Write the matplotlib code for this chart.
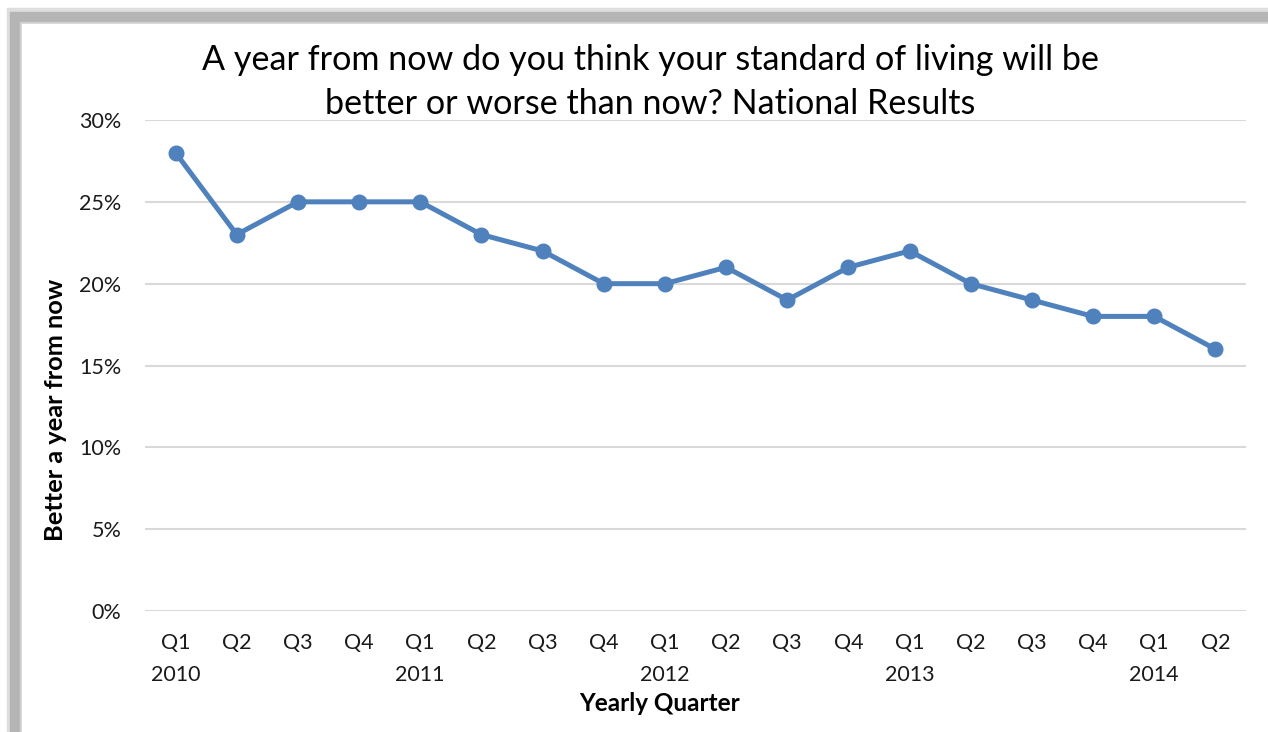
import matplotlib
matplotlib.use('Agg')
import matplotlib.pyplot as plt
from matplotlib.patches import Rectangle
from matplotlib.ticker import PercentFormatter

plt.rcParams['font.family'] = ['Lato', 'DejaVu Sans']

quarters = ['Q1', 'Q2', 'Q3', 'Q4'] * 4 + ['Q1', 'Q2']
years = ['2010', '', '', '', '2011', '', '', '', '2012', '', '', '',
         '2013', '', '', '', '2014', '']
better = [28, 23, 25, 25, 25, 23, 22, 20, 20, 21, 19, 21, 22, 20, 19, 18, 18, 16]

fig = plt.figure(figsize=(12.68, 7.32), dpi=100)

# grey shadow frame round the chart
frame = [((7, 8), '#dedede'), ((10, 12), '#b5b5b5'),
         ((20, 22), '#d0d0d0'), ((22, 24), 'white')]
for (fx, fy), col in frame:
    fig.patches.append(Rectangle((fx / 1268, 0), 1 - fx / 1268, 1 - fy / 732,
                                 transform=fig.transFigure, color=col, zorder=-5))

ax = fig.add_axes([145 / 1268, 1 - 611 / 732, 1101 / 1268, 491 / 732])
ax.patch.set_alpha(0)
x = range(len(better))
ax.plot(x, better, color='#4f81bd', lw=3.6, marker='o', markersize=10.5,
        solid_joinstyle='round', zorder=3)

ax.set_xlim(-0.5, len(better) - 0.5)
ax.set_ylim(0, 30)
ax.set_yticks(range(0, 31, 5))
ax.yaxis.set_major_formatter(PercentFormatter(decimals=0))
ax.set_xticks(list(x))
ax.set_xticklabels([q + '\n' + y for q, y in zip(quarters, years)],
                   linespacing=1.75, va='top')
ax.tick_params(axis='both', length=0, labelsize=15.5, colors='#1a1a1a')
ax.tick_params(axis='x', pad=16)
ax.tick_params(axis='y', pad=17)
ax.grid(axis='y', color='#d9d9d9', lw=1.5)
ax.set_axisbelow(True)
for s in ax.spines.values():
    s.set_visible(False)

ax.set_xlabel('Yearly Quarter', fontsize=17.5, fontweight='bold')
ax.xaxis.set_label_coords((660 - 145) / 1101, -(692 - 611) / 491)
ax.set_ylabel('Better a year from now', fontsize=18.3, fontweight='bold')
ax.yaxis.set_label_coords(-(145 - 67) / 1101, (611 - 410) / 491)

fig.text(650 / 1268, 1 - 82 / 732,
         'A year from now do you think your standard of living will be\n'
         'better or worse than now? National Results',
         ha='center', va='center', fontsize=24.6, linespacing=1.45)

plt.savefig('out.png', dpi=100)
